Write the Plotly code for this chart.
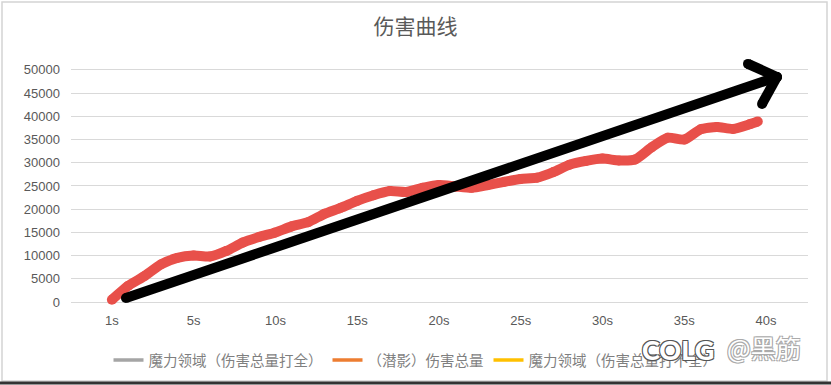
import plotly.graph_objects as go

# ---------------- data ----------------
title_text = "伤害曲线"
series_names = ["魔力领域（伤害总量打全）", "（潜影）伤害总量", "魔力领域（伤害总量打不全）"]
series_colors = ["#a5a5a5", "#ed7d31", "#ffc000"]

# hand-drawn red damage curve (x = position on time axis, y = damage)
red_x = [0, 1, 2, 3, 4, 5, 6, 7, 8, 9, 10, 11, 12, 13, 14, 15, 16, 17, 18, 19,
         20, 21, 22, 23, 24, 25, 26, 27, 28, 29, 30, 31, 32, 33, 34, 35, 36, 37, 38, 39, 39.5]
red_y = [500, 3500, 5600, 8100, 9500, 10000, 9800, 11000, 12800, 14000,
         15000, 16300, 17200, 19000, 20300, 21800, 23000, 23900, 23700, 24600,
         25200, 24900, 24600, 25200, 25900, 26500, 26800, 28000, 29600, 30400,
         30900, 30500, 30700, 33300, 35400, 35000, 37200, 37700, 37300, 38300, 38900]

# black arrow annotation (shaft + two head arms), in data units
arrow_x = [0.86, 40.67, None, 38.9, 40.67, None, 39.76, 40.67]
arrow_y = [860, 48490, None, 51300, 48490, None, 42670, 48490]

x_tickvals = [0, 5, 10, 15, 20, 25, 30, 35, 40]
x_ticktext = ["1s", "5s", "10s", "15s", "20s", "25s", "30s", "35s", "40s"]
y_tickvals = [0, 5000, 10000, 15000, 20000, 25000, 30000, 35000, 40000, 45000, 50000]

watermark_logo = "COLG"
watermark_user = "@黑筋"

# ---------------- figure ----------------
fig = go.Figure()

for name, color in zip(series_names, series_colors):
    fig.add_trace(go.Scatter(x=[None], y=[None], mode="lines", name=name,
                             line=dict(color=color, width=3.5)))

fig.add_trace(go.Scatter(x=red_x, y=red_y, mode="lines+markers", showlegend=False,
                         line=dict(color="#e8504a", width=10, shape="spline", smoothing=0.6),
                         marker=dict(color="#e8504a", size=10), hoverinfo="skip"))

fig.add_trace(go.Scatter(x=arrow_x, y=arrow_y, mode="lines+markers", showlegend=False,
                         line=dict(color="#000000", width=10),
                         marker=dict(color="#000000", size=10), hoverinfo="skip"))

W, H = 831, 385
L, R, T, B = 71, 23, 56, 76
pw, ph = W - L - R, H - T - B

def px_x(p):
    return (p - L) / pw

def px_y(q):
    return (H - B - q) / ph

fig.update_layout(
    width=W, height=H,
    margin=dict(l=L, r=R, t=T, b=B),
    paper_bgcolor="white", plot_bgcolor="white",
    title=dict(text=title_text, x=0.5, xanchor="center", xref="container",
               y=1 - 27 / H, yanchor="middle", yref="container",
               font=dict(family="Noto Sans CJK SC", size=21, color="#595959")),
    xaxis=dict(range=[-2.5, 42.57], tickvals=x_tickvals, ticktext=x_ticktext,
               showgrid=False, zeroline=False, showline=False, ticks="",
               tickfont=dict(family="Liberation Sans", size=13, color="#595959"),
               ticklabelstandoff=2),
    yaxis=dict(range=[-1500, 53000], tickvals=y_tickvals, tickformat="d", showgrid=True,
               gridcolor="#d9d9d9", gridwidth=1, zeroline=False, showline=False,
               ticks="", tickfont=dict(family="Liberation Sans", size=13, color="#595959"),
               ticklabelstandoff=10),
    legend=dict(orientation="h", x=0.5, xanchor="center", xref="container",
                y=1 - 360 / H, yanchor="middle", yref="container",
                font=dict(family="Noto Sans CJK SC", size=14.5, color="#7f7f7f"),
                bgcolor="rgba(0,0,0,0)", itemwidth=30),
    showlegend=True,
)

# outer chart border
fig.add_shape(type="rect", xref="paper", yref="paper",
              x0=px_x(2), x1=px_x(827), y0=px_y(381), y1=px_y(2),
              line=dict(color="#d4d4d4", width=1.5), fillcolor="rgba(0,0,0,0)", layer="below")
fig.add_shape(type="line", xref="paper", yref="paper",
              x0=px_x(0), x1=px_x(831), y0=px_y(383), y1=px_y(383),
              line=dict(color="#333333", width=3))

outline_dark = "1px 1px 0 #555, -1px -1px 0 #555, 1px -1px 0 #555, -1px 1px 0 #555"
outline_light = "1px 1px 0 #aaa, -1px -1px 0 #aaa, 1px -1px 0 #aaa, -1px 1px 0 #aaa"
fig.add_annotation(text=watermark_logo, xref="paper", yref="paper",
                   x=px_x(678), y=px_y(349), xanchor="center", yanchor="middle",
                   showarrow=False,
                   font=dict(family="Lato", size=27, color="white", weight=900,
                             shadow=outline_dark))
fig.add_annotation(text=watermark_user, xref="paper", yref="paper",
                   x=px_x(764), y=px_y(347), xanchor="center", yanchor="middle",
                   showarrow=False,
                   font=dict(family="Noto Sans CJK SC", size=25, color="white",
                             shadow=outline_light))

fig.write_html("out.html", config={"displayModeBar": False},
               post_script="document.body.style.margin='0';document.body.style.overflow='hidden';")
